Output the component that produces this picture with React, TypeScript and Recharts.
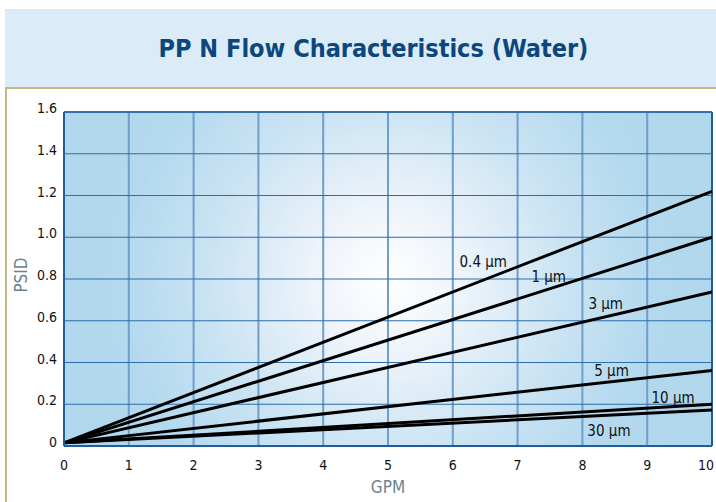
import React from 'react';
import { LineChart, Line, XAxis, YAxis, CartesianGrid, ReferenceLine, ReferenceDot } from 'recharts';

// GPM values (x)
const gpm = [0, 10];
// PSID values for each pore size
const psid04 = [0.015, 1.22];
const psid1 = [0.015, 1.0];
const psid3 = [0.015, 0.738];
const psid5 = [0.015, 0.362];
const psid10 = [0.015, 0.2];
const psid30 = [0.015, 0.173];

const xTicks = [0, 1, 2, 3, 4, 5, 6, 7, 8, 9, 10];
const yTicks = [0, 0.2, 0.4, 0.6, 0.8, 1.0, 1.2, 1.4, 1.6];

const seriesKeys = ['p04', 'p1', 'p3', 'p5', 'p10', 'p30'];
const seriesValues = [psid04, psid1, psid3, psid5, psid10, psid30];

// Label anchor points (data coords) for each curve label
const labelText = ['0.4 µm', '1 µm', '3 µm', '5 µm', '10 µm', '30 µm'];
const labelX = [6.47, 7.48, 8.36, 8.45, 9.4, 8.41];
const labelY = [0.885, 0.81, 0.68, 0.36, 0.23, 0.072];

const data = gpm.map((g, i) => {
  const row: Record<string, number> = { gpm: g };
  seriesKeys.forEach((k, j) => {
    row[k] = seriesValues[j][i];
  });
  return row;
});

const FONT = "'Liberation Sans Narrow', 'DejaVu Sans Condensed', Roboto, sans-serif";

const fmtY = (v: number) => (v === 0 ? '0' : v.toFixed(1));

const YTick = (props: any) => {
  const { x, y, payload } = props;
  return (
    <text x={x} y={y - 4} textAnchor="end" dominantBaseline="central" fontFamily={FONT} fontSize={14} fill="#111">
      {fmtY(payload.value)}
    </text>
  );
};

const XTick = (props: any) => {
  const { x, y, payload } = props;
  const isLast = payload.value === 10;
  return (
    <text x={isLast ? x + 2 : x} y={y} textAnchor={isLast ? 'end' : 'middle'} dominantBaseline="central" fontFamily={FONT} fontSize={14} fill="#111">
      {payload.value}
    </text>
  );
};

export default function App() {
  return (
    <div style={{ position: 'absolute', left: 0, top: 0, width: 716, height: 502, background: '#fff', overflow: 'hidden' }}>
      <div style={{ position: 'absolute', left: 5, top: 9, width: 711, height: 79, background: '#dbebf7' }} />
      <div
        style={{
          position: 'absolute',
          left: 5,
          top: 9,
          width: 711,
          height: 79,
          display: 'flex',
          alignItems: 'center',
          justifyContent: 'center',
          fontFamily: FONT,
          fontWeight: 'bold',
          fontSize: 25,
          color: '#0b477c',
          paddingLeft: 26,
          boxSizing: 'border-box',
        }}
      >
        PP N Flow Characteristics (Water)
      </div>
      <div style={{ position: 'absolute', left: 5, top: 87, width: 711, height: 2, background: '#c4b887' }} />
      <div style={{ position: 'absolute', left: 5, top: 87, width: 2, height: 415, background: '#c4b887' }} />
      <div
        style={{
          position: 'absolute',
          left: 21,
          top: 275,
          transform: 'translate(-50%, -50%) rotate(-90deg)',
          fontFamily: FONT,
          fontSize: 17,
          color: '#6c8294',
          whiteSpace: 'nowrap',
        }}
      >
        PSID
      </div>
      <div
        style={{
          position: 'absolute',
          left: 388,
          top: 487,
          transform: 'translate(-50%, -50%)',
          fontFamily: FONT,
          fontSize: 17,
          color: '#6c8294',
          whiteSpace: 'nowrap',
        }}
      >
        GPM
      </div>
      <div style={{ position: 'absolute', left: 0, top: 0 }}>
        <LineChart width={716} height={502} data={data} margin={{ top: 112, right: 4, left: 0, bottom: 0 }}>
          <defs>
            <radialGradient id="plotBg" gradientUnits="userSpaceOnUse" cx={388} cy={280} r={330}>
              <stop offset="0" stopColor="#ffffff" />
              <stop offset="0.22" stopColor="#eef4fa" />
              <stop offset="0.55" stopColor="#c9e3f3" />
              <stop offset="0.8" stopColor="#b4d9ee" />
              <stop offset="1" stopColor="#b1d7ed" />
            </radialGradient>
          </defs>
          <CartesianGrid fill="url(#plotBg)" horizontal={false} stroke="#6f9ecb" strokeWidth={2} strokeOpacity={1} />
          <CartesianGrid vertical={false} stroke="#2d6ea9" strokeWidth={1.2} strokeOpacity={1} />
          <XAxis
            dataKey="gpm"
            type="number"
            domain={[0, 10]}
            ticks={xTicks}
            interval={0}
            height={56}
            tickLine={false}
            tickSize={0}
            tickMargin={19}
            axisLine={{ stroke: '#1f5f98', strokeWidth: 2 }}
            tick={<XTick />}
          />
          <YAxis
            type="number"
            domain={[0, 1.6]}
            ticks={yTicks}
            interval={0}
            width={64}
            tickLine={false}
            tickSize={0}
            tickMargin={7}
            axisLine={{ stroke: '#1f5f98', strokeWidth: 2 }}
            tick={<YTick />}
          />
          <ReferenceLine x={10} stroke="#1f5f98" strokeWidth={2} />
          <ReferenceLine y={1.6} stroke="#1f5f98" strokeWidth={1.5} />
          {seriesKeys.map((k) => (
            <Line
              key={k}
              dataKey={k}
              type="linear"
              stroke="#000"
              strokeWidth={3}
              dot={false}
              activeDot={false}
              isAnimationActive={false}
            />
          ))}
          {labelText.map((t, i) => (
            <ReferenceDot
              key={t}
              x={labelX[i]}
              y={labelY[i]}
              r={0}
              fill="none"
              stroke="none"
              label={{ value: t, position: 'center', fontFamily: FONT, fontSize: 15, fill: '#111' }}
            />
          ))}
        </LineChart>
      </div>
    </div>
  );
}
